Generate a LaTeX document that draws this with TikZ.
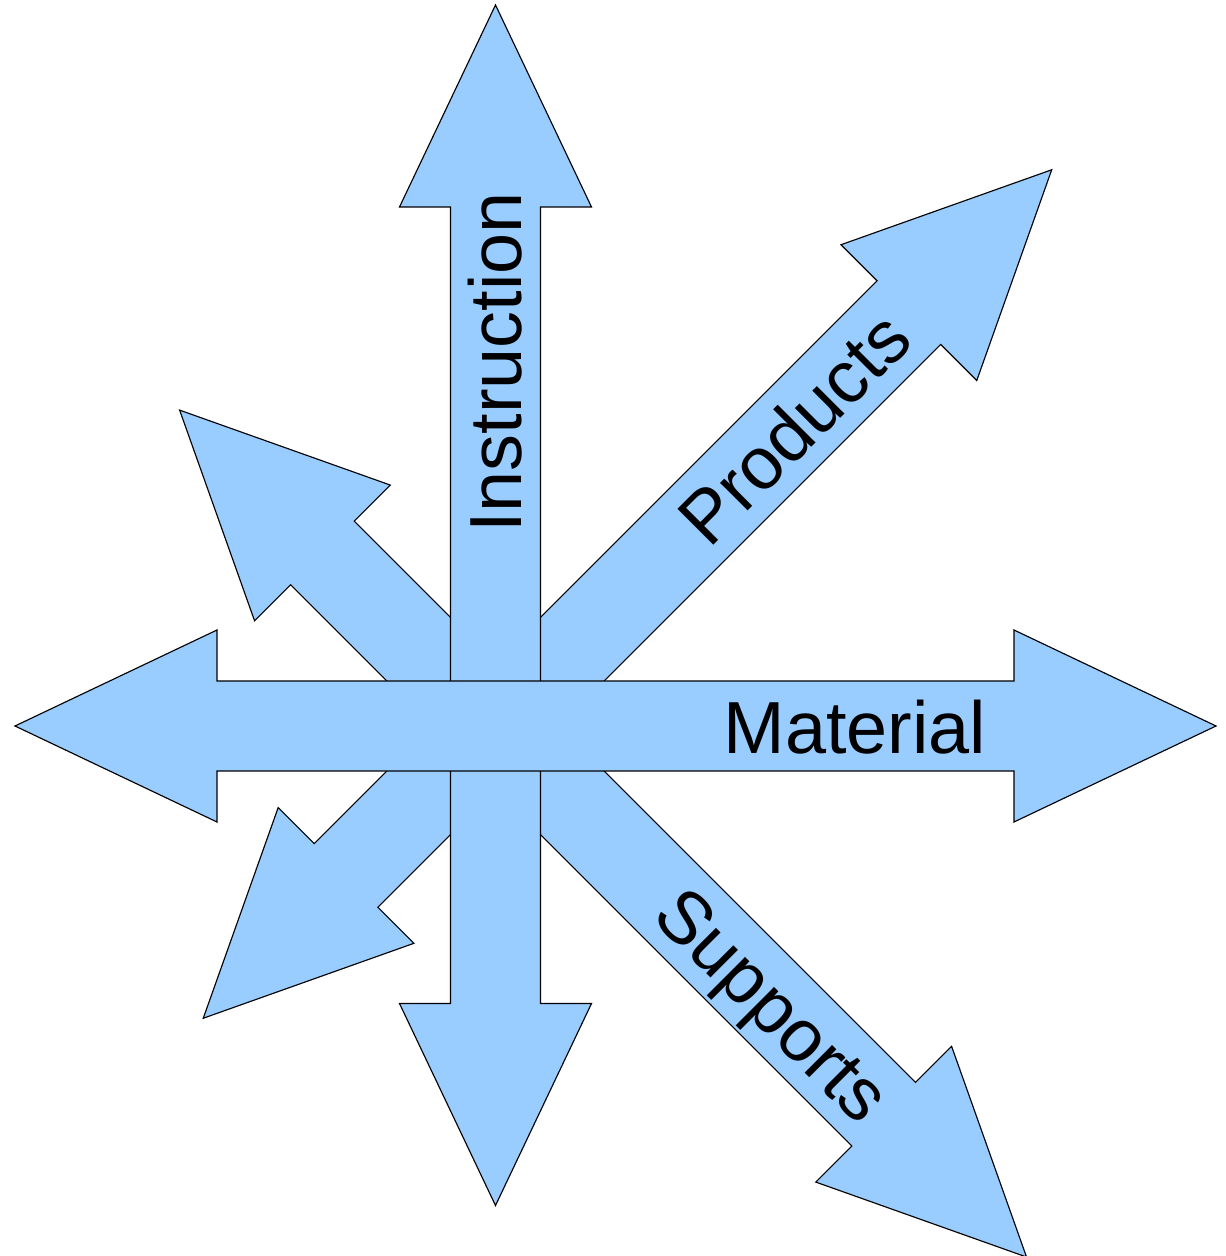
\documentclass[tikz,border=0pt]{standalone}
\usepackage{fontspec}
\setmainfont{Liberation Sans}
\usepackage{xcolor}
\definecolor{arrowBlue}{RGB}{153,204,255}
\newcommand{\fatArrow}[3]{%
    \begin{scope}[rotate=#1]
    \draw[arrowShape] (-#3+202,45) -- (#2-202,45) -- (#2-202,96) -- (#2,0)
        -- (#2-202,-96) -- (#2-202,-45) -- (-#3+202,-45) -- (-#3+202,-96)
        -- (-#3,0) -- (-#3+202,96) -- cycle;
    \end{scope}
}

\begin{document}
\begin{tikzpicture}[x=0.02cm, y=0.02cm,
    arrowShape/.style={draw=black, line width=0.65pt, fill=arrowBlue, line join=miter},
    arrowText/.style={anchor=base, inner sep=0pt, font=\fontsize{42}{50}\selectfont}]
    \useasboundingbox (-495.5,-530) rectangle (729.5,726);
    \fatArrow{45}{786.6}{413.3}
    \fatArrow{135}{446.7}{751}
    \fatArrow{90}{721}{479.5}
    \fatArrow{0}{720.5}{480.5}
    \node[arrowText, rotate=90] (instruction) at (26,363.5) {Instruction};
    \node[arrowText, rotate=45] (products) at (317.1,279.7) {Products};
    \node[arrowText] (material) at (359.5,-28) {Material};
    \node[arrowText, rotate=-45] (supports) at (259.2,-296.6) {Supports};
\end{tikzpicture}
\end{document}
